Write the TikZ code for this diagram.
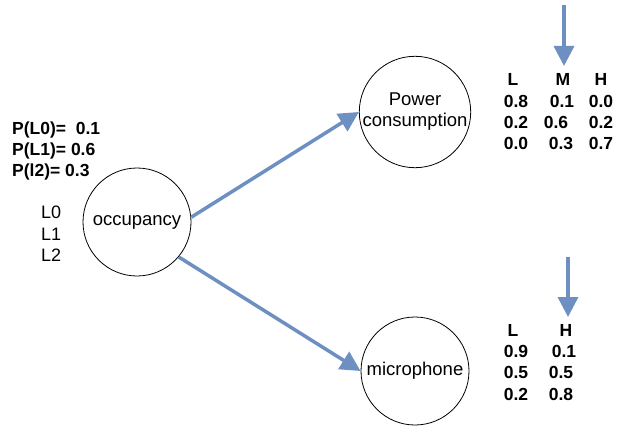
\documentclass[tikz,border=0pt]{standalone}
\usepackage{fontspec}
\setmainfont{Liberation Sans}
\usetikzlibrary{arrows.meta}
\definecolor{arrowblue}{RGB}{110,143,194}
\tikzset{
  var/.style={circle,draw=black,line width=0.8pt,minimum size=108pt,inner sep=0pt,font=\fontsize{18.5}{22}\selectfont,align=center},
  link/.style={draw=arrowblue,line width=3.5pt,-{Triangle[width=20pt,length=20pt]}},
  bt/.style={inner sep=0pt,font=\fontsize{17.5}{21}\selectfont\bfseries},
  nt/.style={inner sep=0pt,font=\fontsize{18}{21}\selectfont},
}
\begin{document}
\begin{tikzpicture}[x=1pt,y=-1pt]
\useasboundingbox (0,0) rectangle (624,428);
% nodes
\node[var] (occ) at (137,222) {occupancy};
\node[var] (pow) at (415,112) {Power\\[-1pt]consumption};
\node[var] (mic) at (415,371) {microphone};
% connectors
\draw[link] (occ.5) -- (pow.west);
\draw[link] (occ.-40) -- (mic.west);
\coordinate (pa) at (564,5);
\coordinate (pb) at (564,66);
\coordinate (ma) at (568,257);
\coordinate (mb) at (568,317);
\draw[link] (pa) -- (pb);
\draw[link] (ma) -- (mb);
% prior
\node[bt,anchor=west] (pr0) at (12,130) {P(L0)=\ \ 0.1};
\node[bt,anchor=west] (pr1) at (12,151) {P(L1)= 0.6};
\node[bt,anchor=west] (pr2) at (12,172) {P(l2)= 0.3};
\node[nt,anchor=west] (l0) at (41,212) {L0};
\node[nt,anchor=west] (l1) at (41,234) {L1};
\node[nt,anchor=west] (l2) at (41,255) {L2};
% power table
\node[bt] (ph1) at (513,79) {L};
\node[bt] (ph2) at (563,79) {M};
\node[bt] (ph3) at (601,79) {H};
\node[bt] (p11) at (516,101) {0.8};
\node[bt] (p12) at (562,101) {0.1};
\node[bt] (p13) at (601,101) {0.0};
\node[bt] (p21) at (516,122) {0.2};
\node[bt] (p22) at (556,122) {0.6};
\node[bt] (p23) at (601,122) {0.2};
\node[bt] (p31) at (516,143) {0.0};
\node[bt] (p32) at (561,143) {0.3};
\node[bt] (p33) at (601,143) {0.7};
% microphone table
\node[bt] (mh1) at (513,330) {L};
\node[bt] (mh2) at (566,330) {H};
\node[bt] (m11) at (516,351) {0.9};
\node[bt] (m12) at (564,351) {0.1};
\node[bt] (m21) at (516,372) {0.5};
\node[bt] (m22) at (561,372) {0.5};
\node[bt] (m31) at (516,394) {0.2};
\node[bt] (m32) at (561,394) {0.8};
\end{tikzpicture}
\end{document}
